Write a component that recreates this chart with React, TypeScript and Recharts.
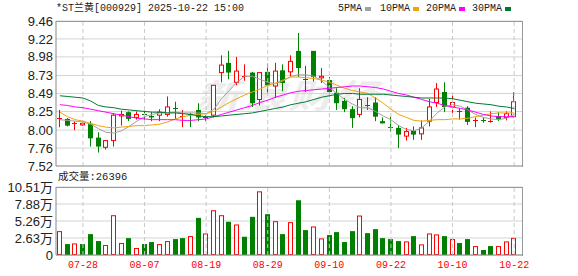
import React from "react";
import {
  ComposedChart, Bar, Line, XAxis, YAxis, CartesianGrid, ReferenceLine,
} from "recharts";

const DATES = [
  "07-23", "07-24", "07-25", "07-28", "07-29", "07-30", "07-31", "08-01", "08-04", "08-05",
  "08-06", "08-07", "08-08", "08-11", "08-12", "08-13", "08-14", "08-15", "08-18", "08-19",
  "08-20", "08-21", "08-22", "08-25", "08-26", "08-27", "08-28", "08-29", "09-01", "09-02",
  "09-03", "09-04", "09-05", "09-08", "09-09", "09-10", "09-11", "09-12", "09-15", "09-16",
  "09-17", "09-18", "09-19", "09-22", "09-23", "09-24", "09-25", "09-26", "09-29", "09-30",
  "10-09", "10-10", "10-13", "10-14", "10-15", "10-16", "10-17", "10-20", "10-21", "10-22",
];

const OPEN = [
  8.15, 8.15, 8.09, 8.07, 8.08, 7.90, 7.77, 7.86, 8.19, 8.24,
  8.17, 8.21, 8.19, 8.20, 8.21, 8.29, 8.18, 8.21, 8.27, 8.17,
  8.20, 8.77, 8.90, 8.64, 8.72, 8.77, 8.41, 8.78, 8.59, 8.80,
  8.78, 9.06, 8.68, 9.06, 8.70, 8.67, 8.50, 8.39, 8.28, 8.21,
  8.33, 8.37, 8.12, 8.04, 8.03, 7.92, 7.99, 7.95, 8.12, 8.37,
  8.51, 8.31, 8.24, 8.30, 8.13, 8.14, 8.11, 8.19, 8.17, 8.18,
];
const HIGH = [
  8.27, 8.16, 8.12, 8.10, 8.12, 7.97, 7.86, 8.23, 8.26, 8.25,
  8.25, 8.26, 8.24, 8.28, 8.45, 8.38, 8.27, 8.23, 8.36, 8.20,
  8.60, 9.00, 9.06, 8.98, 8.88, 8.78, 8.77, 8.89, 8.90, 8.88,
  9.00, 9.30, 8.86, 9.06, 8.83, 8.71, 8.56, 8.43, 8.32, 8.56,
  8.44, 8.44, 8.17, 8.18, 8.07, 8.03, 8.05, 8.13, 8.42, 8.63,
  8.64, 8.49, 8.29, 8.32, 8.17, 8.17, 8.25, 8.24, 8.25, 8.51,
];
const LOW = [
  8.04, 8.05, 8.00, 8.06, 7.78, 7.70, 7.74, 7.78, 8.06, 8.12,
  8.14, 8.14, 8.12, 8.12, 8.18, 8.15, 8.04, 8.04, 8.12, 8.12,
  8.17, 8.64, 8.68, 8.60, 8.66, 8.31, 8.33, 8.48, 8.43, 8.52,
  8.72, 8.71, 8.51, 8.65, 8.63, 8.45, 8.27, 8.24, 8.03, 8.17,
  8.27, 8.12, 8.09, 7.98, 7.76, 7.86, 7.87, 7.87, 8.05, 8.31,
  8.24, 8.23, 8.14, 8.07, 8.04, 8.10, 8.10, 8.12, 8.13, 8.17,
];
const CLOSE = [
  8.16, 8.06, 8.10, 8.09, 7.89, 7.78, 7.86, 8.20, 8.21, 8.15,
  8.21, 8.20, 8.17, 8.24, 8.31, 8.28, 8.19, 8.20, 8.17, 8.18,
  8.60, 8.87, 8.77, 8.79, 8.73, 8.36, 8.77, 8.60, 8.79, 8.63,
  8.92, 8.83, 8.67, 8.71, 8.72, 8.51, 8.36, 8.28, 8.16, 8.41,
  8.34, 8.18, 8.09, 8.03, 7.94, 7.98, 7.94, 8.03, 8.31, 8.55,
  8.31, 8.37, 8.25, 8.11, 8.14, 8.13, 8.12, 8.15, 8.22, 8.38,
];
const PREV_CLOSE = 8.12;

// 成交量, 万手
const VOLUME = [
  3.69, 1.69, 1.79, 1.69, 3.23, 2.15, 1.54, 6.15, 1.85, 2.61,
  1.08, 1.69, 2.00, 1.69, 2.15, 2.46, 2.61, 2.92, 5.74, 3.33,
  6.92, 6.15, 5.13, 4.72, 2.82, 5.90, 9.84, 6.31, 5.23, 3.23,
  5.08, 8.46, 3.85, 4.41, 2.56, 3.08, 3.54, 2.00, 3.69, 6.10,
  3.38, 4.00, 2.61, 2.46, 2.15, 2.10, 2.92, 1.64, 3.33, 3.18,
  2.92, 2.46, 1.85, 2.46, 1.38, 0.77, 1.38, 1.38, 2.10, 2.64,
];

const MA5 = [
  8.14, 8.13, 8.12, 8.11, 8.08, 8.02, 7.97, 7.96, 7.99, 8.05,
  8.12, 8.18, 8.21, 8.23, 8.23, 8.24, 8.23, 8.23, 8.23, 8.22,
  8.28, 8.42, 8.53, 8.64, 8.72, 8.72, 8.68, 8.64, 8.62, 8.66,
  8.72, 8.74, 8.74, 8.72, 8.66, 8.57, 8.49, 8.41, 8.35, 8.30,
  8.30, 8.25, 8.19, 8.14, 8.06, 8.01, 7.99, 8.03, 8.12, 8.23,
  8.31, 8.34, 8.32, 8.27, 8.21, 8.17, 8.15, 8.14, 8.16, 8.21,
];
const MA10 = [
  8.24, 8.18, 8.14, 8.12, 8.09, 8.06, 8.04, 8.03, 8.04, 8.05,
  8.06, 8.06, 8.07, 8.08, 8.11, 8.15, 8.18, 8.20, 8.21, 8.22,
  8.25, 8.31, 8.37, 8.42, 8.47, 8.51, 8.55, 8.60, 8.63, 8.67,
  8.71, 8.71, 8.70, 8.69, 8.67, 8.64, 8.60, 8.56, 8.53, 8.51,
  8.49, 8.43, 8.36, 8.28, 8.21, 8.17, 8.13, 8.12, 8.13, 8.14,
  8.14, 8.15, 8.15, 8.16, 8.18, 8.20, 8.22, 8.23, 8.23, 8.23,
];
const MA20 = [
  8.34, 8.33, 8.31, 8.30, 8.28, 8.26, 8.24, 8.22, 8.20, 8.18,
  8.16, 8.15, 8.14, 8.14, 8.14, 8.14, 8.13, 8.13, 8.14, 8.15,
  8.18, 8.21, 8.24, 8.27, 8.30, 8.33, 8.37, 8.40, 8.44, 8.47,
  8.50, 8.52, 8.53, 8.54, 8.55, 8.56, 8.57, 8.58, 8.59, 8.59,
  8.58, 8.57, 8.55, 8.52, 8.49, 8.47, 8.44, 8.41, 8.38, 8.36,
  8.33, 8.31, 8.29, 8.27, 8.24, 8.21, 8.19, 8.18, 8.18, 8.18,
];
const MA30 = [
  8.46, 8.45, 8.44, 8.43, 8.39, 8.33, 8.31, 8.30, 8.28, 8.27,
  8.26, 8.25, 8.24, 8.24, 8.23, 8.23, 8.22, 8.21, 8.19, 8.18,
  8.18, 8.19, 8.20, 8.21, 8.22, 8.23, 8.25, 8.27, 8.29, 8.31,
  8.34, 8.36, 8.38, 8.41, 8.44, 8.46, 8.48, 8.49, 8.49, 8.48,
  8.48, 8.48, 8.48, 8.47, 8.46, 8.45, 8.44, 8.43, 8.43, 8.43,
  8.43, 8.42, 8.40, 8.38, 8.36, 8.35, 8.34, 8.32, 8.31, 8.29,
];

const DATE_TICKS = ["07-28", "08-07", "08-19", "08-29", "09-10", "09-22", "10-10", "10-22"];
const PRICE_TICKS = [7.52, 7.76, 8.0, 8.25, 8.49, 8.73, 8.98, 9.22, 9.46];
const VOL_TICKS = [0, 2.63, 5.26, 7.88, 10.51];

const RED = "#ff0000";
const GREEN = "#008000";
const GRID = "#d4d4d4";
const FRAME = "#999999";
const LEGEND = [
  { name: "5PMA", color: "#a0a0a0", left: 338, box: 365 },
  { name: "10PMA", color: "#f0a30a", left: 380, box: 413 },
  { name: "20PMA", color: "#ff00ff", left: 426, box: 459 },
  { name: "30PMA", color: "#007a33", left: 472, box: 505 },
];

const MONO = '"Liberation Mono", "Noto Sans CJK SC", monospace';
const SANS = '"Liberation Sans", Arial, "Noto Sans CJK SC", sans-serif';

const rows = DATES.map((date, i) => ({
  date,
  open: OPEN[i],
  high: HIGH[i],
  low: LOW[i],
  close: CLOSE[i],
  range: [LOW[i], HIGH[i]],
  vol: VOLUME[i],
  volUp: CLOSE[i] >= (i === 0 ? PREV_CLOSE : CLOSE[i - 1]),
  ma5: MA5[i],
  ma10: MA10[i],
  ma20: MA20[i],
  ma30: MA30[i],
}));

function Candle(props: any) {
  const { x, y, width, height, payload } = props;
  if (x == null || payload == null) return null;
  const top = Math.min(y, y + height);
  const h = Math.abs(height);
  const { open, close, high, low } = payload;
  const span = high - low || 1;
  const py = (v: number) => top + ((high - v) / span) * h;
  const cx = Math.floor(x + width / 2) + 0.5;
  const up = close >= open;
  const color = up ? RED : GREEN;
  const bTop = py(Math.max(open, close));
  const bBot = py(Math.min(open, close));
  const bh = bBot - bTop;
  return (
    <g>
      <line x1={cx} x2={cx} y1={top} y2={top + h} stroke={color} strokeWidth={1} />
      {bh < 1.2 ? (
        <line x1={cx - 2.5} x2={cx + 2.5} y1={Math.round(bTop) + 0.5} y2={Math.round(bTop) + 0.5} stroke={color} />
      ) : up ? (
        <rect x={cx - 2} y={bTop} width={4} height={bh} fill="#fff" stroke={color} strokeWidth={1} />
      ) : (
        <rect x={cx - 2.5} y={bTop} width={5} height={bh} fill={color} />
      )}
    </g>
  );
}

function VolBar(props: any) {
  const { x, y, width, height, payload } = props;
  if (x == null || payload == null) return null;
  const cx = Math.floor(x + width / 2) + 0.5;
  if (payload.volUp) {
    return <rect x={cx - 2} y={y + 0.5} width={4} height={Math.max(height - 1, 0)} fill="#fff" stroke={RED} strokeWidth={1} />;
  }
  return <rect x={cx - 2.5} y={y} width={5} height={height} fill={GREEN} />;
}

const frameStyle = (top: number, height: number): React.CSSProperties => ({
  position: "absolute", left: 56, top, width: 467, height: height + 1,
  borderTop: `1px solid ${FRAME}`, borderRight: `1px solid ${FRAME}`,
  boxSizing: "border-box", pointerEvents: "none",
});

export default function App() {
  return (
    <div style={{ position: "absolute", left: 0, top: 0, width: 578, height: 276, background: "#fff", overflow: "hidden", color: "#222" }}>
      {/* faint site watermark behind the candles */}
      <div style={{
        position: "absolute", left: 196, top: 70, fontFamily: '"Noto Sans CJK SC", sans-serif',
        fontSize: 44, fontWeight: 700, fontStyle: "italic", color: "#ececec", whiteSpace: "nowrap",
        transform: "scaleY(0.75)", transformOrigin: "0 0", letterSpacing: 2,
      }}>
        新浪财经
      </div>

      <div style={{ position: "absolute", left: 56, top: 2, fontFamily: MONO, fontSize: 10, lineHeight: "14px", whiteSpace: "nowrap" }}>
        *ST兰黄[000929] 2025-10-22 15:00
      </div>
      {LEGEND.map((l) => (
        <React.Fragment key={l.name}>
          <div style={{ position: "absolute", left: l.left, top: 2, fontFamily: MONO, fontSize: 10, lineHeight: "14px", whiteSpace: "nowrap" }}>{l.name}</div>
          <div style={{ position: "absolute", left: l.box, top: 7, width: 6, height: 4, background: l.color }} />
        </React.Fragment>
      ))}

      <div style={{ position: "absolute", left: 0, top: 170 }}>
        <ComposedChart width={578} height={106} data={rows} margin={{ top: 17, right: 56, bottom: 0, left: 0 }}>
          <CartesianGrid vertical={false} stroke={GRID} />
          <XAxis
            dataKey="date"
            ticks={DATE_TICKS}
            interval={0}
            height={21}
            padding={{ left: 0, right: 4 }}
            tickLine={false}
            tickSize={0}
            tickMargin={6}
            axisLine={{ stroke: "#888" }}
            tick={{ fill: RED, fontSize: 10, fontFamily: MONO }}
          />
          <YAxis
            domain={[0, 10.51]}
            ticks={VOL_TICKS}
            interval={0}
            width={56}
            allowDataOverflow
            tickLine={false}
            tickSize={0}
            tickMargin={3}
            axisLine={{ stroke: "#888" }}
            tick={{ fill: "#222", fontSize: 13, fontFamily: SANS }}
            tickFormatter={(v: number) => (v === 0 ? "0" : `${v.toFixed(2)}万`)}
          />
          {DATE_TICKS.map((d) => (
            <ReferenceLine key={d} x={d} stroke="#c8c8c8" strokeDasharray="4 3" />
          ))}
          <Bar dataKey="vol" shape={<VolBar />} barSize={5} isAnimationActive={false} />
        </ComposedChart>
      </div>
      <div style={frameStyle(187, 68)} />

      <div style={{ position: "absolute", left: 58, top: 171, fontFamily: MONO, fontSize: 10.5, lineHeight: "13px", whiteSpace: "nowrap" }}>
        成交量:26396
      </div>

      <div style={{ position: "absolute", left: 0, top: 0 }}>
        <ComposedChart width={578} height={180} data={rows} margin={{ top: 21, right: 56, bottom: 14, left: 0 }}>
          <CartesianGrid vertical={false} stroke={GRID} />
          <XAxis dataKey="date" hide padding={{ left: 0, right: 4 }} />
          <YAxis
            domain={[7.52, 9.46]}
            ticks={PRICE_TICKS}
            interval={0}
            width={56}
            allowDataOverflow
            tickLine={false}
            tickSize={0}
            tickMargin={3}
            axisLine={{ stroke: "#888" }}
            tick={{ fill: "#222", fontSize: 13, fontFamily: SANS }}
            tickFormatter={(v: number) => v.toFixed(2)}
          />
          {DATE_TICKS.map((d) => (
            <ReferenceLine key={d} x={d} stroke="#c8c8c8" strokeDasharray="4 3" />
          ))}
          <ReferenceLine y={7.52} stroke={FRAME} />
          <Bar dataKey="range" shape={<Candle />} barSize={5} isAnimationActive={false} />
          <Line type="linear" dataKey="ma5" stroke="#a0a0a0" strokeWidth={1} dot={false} isAnimationActive={false} />
          <Line type="linear" dataKey="ma10" stroke="#f0a30a" strokeWidth={1} dot={false} isAnimationActive={false} />
          <Line type="linear" dataKey="ma20" stroke="#ff00ff" strokeWidth={1} dot={false} isAnimationActive={false} />
          <Line type="linear" dataKey="ma30" stroke="#007a33" strokeWidth={1} dot={false} isAnimationActive={false} />
        </ComposedChart>
      </div>
      <div style={frameStyle(21, 145)} />
    </div>
  );
}
